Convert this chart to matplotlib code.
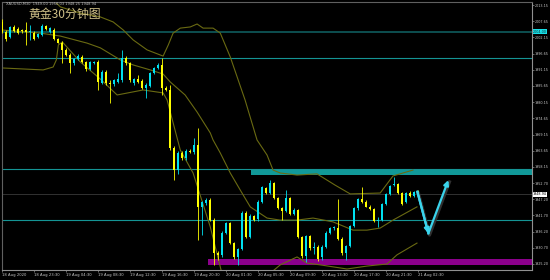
import matplotlib
matplotlib.use('Agg')
import matplotlib.pyplot as plt
from matplotlib.transforms import blended_transform_factory

# XAUUSD M30 candles (bar index 0 = 18 Aug 19:30)
opens = [2007.4, 2004.0, 2002.3, 2005.7, 2005.0, 2004.3, 2004.7, 2004.0, 2003.6, 2002.3,
         2003.0, 2006.0, 2004.0, 2004.7, 2001.5, 2000.4, 1997.9, 1996.2, 1993.4, 1994.7,
         1995.6, 1993.8, 1991.4, 1993.4, 1993.8, 1986.8, 1990.5, 1986.6, 1986.2, 1987.1,
         1987.7, 1995.0, 1993.3, 1986.5, 1987.9, 1987.2, 1984.9, 1985.6, 1990.0, 1991.7,
         1992.9, 1984.9, 1984.3, 1964.5, 1957.1, 1962.8, 1961.1, 1963.5, 1963.2, 1965.6,
         1944.7, 1945.9, 1946.9, 1940.1, 1929.0, 1928.3, 1935.8, 1939.0, 1932.2, 1927.5,
         1930.3, 1942.6, 1934.5, 1941.5, 1940.4, 1946.4, 1950.9, 1949.2, 1952.6, 1947.5,
         1944.1, 1943.3, 1947.5, 1942.2, 1943.5, 1934.3, 1927.9, 1934.7, 1930.5, 1931.0,
         1927.6, 1931.0, 1935.8, 1937.3, 1937.4, 1933.8, 1928.8, 1931.3, 1938.1, 1944.1,
         1947.2, 1946.3, 1944.7, 1943.8, 1939.8, 1940.1, 1945.6, 1949.0, 1952.0, 1952.2,
         1949.4, 1946.3, 1949.4, 1948.3, 1949.7]
highs = [2008.4, 2004.6, 2006.0, 2006.4, 2005.6, 2005.0, 2007.4, 2006.4, 2004.3, 2003.6,
         2006.7, 2006.4, 2005.7, 2005.3, 2001.9, 2000.8, 1998.5, 1996.8, 1995.1, 1996.5,
         1996.2, 1994.2, 1994.1, 1994.1, 1994.4, 1991.0, 1991.0, 1987.7, 1988.0, 1990.1,
         1997.9, 1995.8, 1993.8, 1988.4, 1989.4, 1987.9, 1986.6, 1990.4, 1992.0, 1993.6,
         1995.0, 1985.6, 1986.0, 1965.2, 1963.5, 1963.5, 1964.2, 1964.2, 1968.0, 1971.4,
         1946.6, 1947.6, 1947.6, 1940.8, 1929.6, 1936.4, 1939.5, 1939.5, 1932.7, 1930.6,
         1943.2, 1943.2, 1942.2, 1942.0, 1947.0, 1951.8, 1951.5, 1953.7, 1953.2, 1948.0,
         1944.6, 1950.3, 1948.0, 1944.2, 1944.0, 1934.8, 1935.2, 1935.2, 1932.6, 1931.6,
         1931.6, 1936.4, 1937.8, 1938.0, 1947.3, 1934.3, 1931.6, 1938.6, 1944.4, 1947.6,
         1951.4, 1946.8, 1945.1, 1944.2, 1941.0, 1945.9, 1949.3, 1952.0, 1954.8, 1952.7,
         1949.8, 1949.7, 1949.9, 1950.0, 1950.3]
lows = [2003.6, 2001.0, 2001.8, 2004.0, 2003.3, 2003.6, 1999.6, 2001.3, 2001.3, 2001.9,
        2002.6, 2004.7, 2003.6, 2001.3, 2000.1, 1993.4, 1995.8, 1990.1, 1992.8, 1994.4,
        1993.4, 1990.9, 1991.0, 1993.1, 1984.3, 1986.2, 1985.9, 1980.0, 1985.6, 1986.6,
        1987.0, 1992.8, 1987.0, 1985.9, 1986.8, 1984.5, 1981.6, 1985.2, 1989.6, 1991.3,
        1982.6, 1983.9, 1963.9, 1953.7, 1955.8, 1960.5, 1960.5, 1962.9, 1962.6, 1933.3,
        1935.0, 1945.2, 1939.8, 1924.9, 1926.6, 1927.6, 1935.4, 1931.9, 1926.9, 1924.9,
        1929.9, 1934.0, 1934.0, 1939.7, 1939.9, 1946.0, 1948.9, 1948.8, 1947.2, 1943.8,
        1940.1, 1942.9, 1941.7, 1941.8, 1933.9, 1927.3, 1925.9, 1930.1, 1928.6, 1926.2,
        1926.5, 1930.6, 1935.4, 1936.8, 1933.2, 1928.3, 1926.6, 1930.9, 1937.7, 1943.7,
        1945.9, 1944.4, 1943.5, 1939.4, 1937.8, 1939.7, 1945.2, 1948.6, 1951.8, 1949.1,
        1945.2, 1945.9, 1947.9, 1948.0, 1948.6]
closes = [2004.0, 2001.6, 2005.7, 2004.3, 2003.6, 2004.2, 2004.0, 2004.3, 2001.6, 2003.3,
          2006.0, 2005.0, 2005.3, 2001.5, 2000.4, 1997.9, 1996.2, 1993.6, 1994.7, 1995.8,
          1993.8, 1991.3, 1993.8, 1993.8, 1986.9, 1990.5, 1986.6, 1986.2, 1987.7, 1987.9,
          1995.0, 1993.3, 1987.7, 1987.9, 1987.1, 1984.9, 1986.0, 1990.0, 1991.7, 1992.9,
          1984.9, 1984.3, 1964.5, 1957.1, 1962.8, 1961.1, 1963.5, 1963.2, 1965.6, 1944.7,
          1946.1, 1946.9, 1940.1, 1928.8, 1928.3, 1935.8, 1939.0, 1932.2, 1927.5, 1930.3,
          1942.6, 1934.5, 1941.5, 1940.1, 1946.4, 1951.2, 1949.2, 1952.8, 1947.5, 1944.1,
          1943.2, 1947.5, 1942.2, 1943.5, 1934.3, 1927.9, 1934.7, 1930.5, 1931.0, 1926.9,
          1931.0, 1935.8, 1937.3, 1937.5, 1933.8, 1928.8, 1931.3, 1938.1, 1944.1, 1947.2,
          1946.3, 1944.7, 1943.8, 1939.8, 1940.2, 1945.6, 1949.0, 1951.7, 1952.4, 1949.4,
          1945.6, 1949.4, 1948.3, 1949.6, 1948.9]

# Bollinger bands (bar index, price)
bb_up_x = [-0.4, 10.8, 12.8, 14.6, 19.6, 24.6, 27.8, 30.3, 32.8, 36.3, 40.3, 41.6, 42.8, 44.6,
           47.1, 48.8, 50.3, 52.8, 54.6, 57.1, 60.8, 63.8, 66.3, 67.8, 69.6, 73.8, 78.8, 83.3,
           87.1, 94.6, 97.8, 102.8]
bb_up_y = [2018.2, 2016.9, 2014.85, 2012.5, 2010.4, 2009.1, 2007.4, 2004.7, 2001.3, 1997.9,
           1995.8, 1999.6, 2003.6, 2005.3, 2005.7, 2006.7, 2005.3, 2005.3, 2003.6, 1995.5,
           1980.9, 1967.3, 1962.2, 1957.1, 1956.1, 1955.4, 1955.8, 1952.0, 1949.0, 1949.3,
           1955.1, 1957.1]
bb_mid_x = [-0.4, 9.6, 14.6, 21.3, 24.6, 29.6, 32.8, 37.1, 40.3, 42.1, 45.8, 48.8, 52.1, 52.8,
            54.6, 57.1, 59.6, 62.1, 66.3, 69.6, 73.8, 77.8, 82.8, 87.8, 91.3, 94.6, 97.8, 103.8]
bb_mid_y = [2004.7, 2003.6, 2002.6, 2000.2, 1998.6, 1994.5, 1992.8, 1991.1, 1989.7, 1987.0,
            1982.6, 1976.8, 1969.7, 1967.3, 1962.9, 1956.1, 1950.3, 1944.6, 1940.8, 1940.1,
            1940.1, 1940.8, 1939.5, 1936.7, 1936.7, 1937.4, 1940.1, 1944.6]
bb_lo_x = [-0.4, 10.3, 12.8, 13.6, 14.1, 15.1, 19.6, 24.6, 28.8, 35.3, 40.3, 41.3, 44.6, 47.8,
           52.1, 55.1, 60.8, 66.6, 69.6, 73.8, 76.3, 79.6, 86.3, 91.3, 96.3, 98.8, 103.8]
bb_lo_y = [1991.8, 1991.1, 1992.1, 1994.5, 1999.6, 2000.6, 1993.8, 1988.0, 1982.6, 1984.3,
           1983.3, 1980.9, 1963.9, 1956.1, 1937.8, 1921.5, 1913.0, 1921.5, 1924.9, 1927.6,
           1925.5, 1924.9, 1923.5, 1924.5, 1925.2, 1928.3, 1932.3]

# horizontal levels and zones
level_dark = 2004.0
levels_teal = [1995.1, 1957.3, 1940.1]
resist_zone = [62.3, 1955.4, 1957.1]    # start bar, low, high
support_zone = [51.6, 1924.9, 1926.9]
last_price = 1948.94

# projected path (bar index, price)
arrow_x = [103.9, 106.65, 111.65]
arrow_y = [1949.75, 1935.6, 1953.7]

yticks = [2013.15, 2007.65, 2002.15, 1996.65, 1991.15, 1985.65, 1980.15, 1974.65, 1969.15,
          1963.65, 1958.15, 1952.70, 1947.20, 1941.70, 1936.20, 1930.70, 1925.20]
xtick_bars = [0, 8, 16, 24, 32, 40, 48, 56, 64, 72, 80, 88, 96, 104]
xtick_labels = ['18 Aug 2020', '18 Aug 23:30', '19 Aug 04:30', '19 Aug 08:30', '19 Aug 12:30',
                '19 Aug 16:30', '19 Aug 20:30', '20 Aug 01:30', '20 Aug 05:30', '20 Aug 09:30',
                '20 Aug 13:30', '20 Aug 17:30', '20 Aug 21:30', '21 Aug 02:30']

UP_C = '#00e0f0'
DN_C = '#ffff00'
BAND_C = '#6a6a12'
TEAL = '#149494'

fig = plt.figure(figsize=(5.5, 2.8), dpi=100, facecolor='black')
ax = fig.add_axes([2/550, 10/280, 530/550, 268/280], facecolor='black')
ax.set_xlim(0.075, 132.575)
ax.set_ylim(1923.16, 2014.17)

# levels / zones
ax.axhline(level_dark, color='#0d4f50', lw=1.4, zorder=1)
for lv in levels_teal:
    ax.axhline(lv, color=TEAL, lw=0.8, zorder=1)
ax.axhline(last_price, color='#3a3a3a', lw=0.6, zorder=1)
ax.fill_between([resist_zone[0], 140], resist_zone[1], resist_zone[2], color='#119999', lw=0, zorder=1)
ax.fill_between([support_zone[0], 140], support_zone[1], support_zone[2], color='#8b008b', lw=0, zorder=1)

# bands
for bx, by in [(bb_up_x, bb_up_y), (bb_mid_x, bb_mid_y), (bb_lo_x, bb_lo_y)]:
    ax.plot(bx, by, color=BAND_C, lw=0.8, zorder=2)

# candles
for i, (o, h, l, c) in enumerate(zip(opens, highs, lows, closes)):
    col = UP_C if c >= o else DN_C
    ax.vlines(i, l, h, color=col, lw=0.6, zorder=3)
    ax.bar(i, max(abs(c - o), 0.3), bottom=min(o, c), width=0.6, color=col, lw=0, zorder=4)

# projected path with shadow
ax.plot([x + 0.3 for x in arrow_x], [y - 0.6 for y in arrow_y], color='#303030', lw=2.2, zorder=5)
ax.plot(arrow_x[:2], arrow_y[:2], color='#3ad4ec', lw=1.6, zorder=6)
for k in range(2):
    ax.annotate('', xy=(arrow_x[k + 1], arrow_y[k + 1]), xytext=(arrow_x[k], arrow_y[k]),
                arrowprops=dict(arrowstyle='-|>', color='#3ad4ec', lw=1.6, mutation_scale=7,
                                shrinkA=0, shrinkB=0), zorder=6)

# axes styling
for s in ['top', 'left']:
    ax.spines[s].set_color('#606060')
    ax.spines[s].set_linewidth(0.8)
for s in ['right', 'bottom']:
    ax.spines[s].set_color('#909090')
    ax.spines[s].set_linewidth(0.8)
ax.yaxis.tick_right()
ax.set_yticks(yticks)
ax.set_yticklabels([f'{v:.2f}' for v in yticks])
ax.set_xticks(xtick_bars)
ax.set_xticklabels(xtick_labels, ha='left')
ax.tick_params(colors='#909090', labelcolor='#c8c8c8', length=1.5, width=0.5, pad=0.8)
ax.tick_params(axis='y', labelsize=2.4, length=1.2)
ax.tick_params(axis='x', labelsize=2.7)

# price tags on the right
tr = blended_transform_factory(ax.transAxes, ax.transData)
ax.text(1.002, level_dark, f'{level_dark:.2f}', transform=tr, fontsize=2.4, color='#0a3030',
        va='center', ha='left', bbox=dict(boxstyle='square,pad=0.15', fc='#18e0e8', ec='none'))
ax.text(1.002, last_price, f'{last_price:.2f}', transform=tr, fontsize=2.4, color='black',
        va='center', ha='left', bbox=dict(boxstyle='square,pad=0.15', fc='white', ec='none'))

# header texts
fig.text(6/550, 1 - 4/280, 'XAUUSD,M30  1949.00 1950.03 1948.25 1948.94', fontsize=2.6,
         color='#c0c0c0', va='center', ha='left')
fig.text(28/550, 1 - 14/280, '黄金30分钟图', fontsize=8.6, color='#cfc088', va='center', ha='left',
         family=['Noto Sans CJK SC', 'DejaVu Sans'])

fig.savefig('out.png', dpi=100, facecolor='black')
